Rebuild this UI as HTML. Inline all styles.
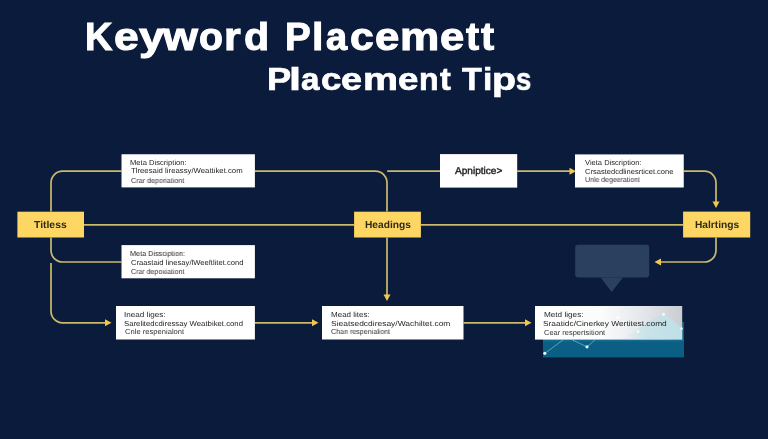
<!DOCTYPE html>
<html><head><meta charset="utf-8">
<style>
html,body{margin:0;padding:0;}
body{width:768px;height:439px;overflow:hidden;background:#0b1b3b;position:relative;font-family:"Liberation Sans",sans-serif;}
.tx{position:absolute;white-space:nowrap;line-height:1;transform-origin:0 0;will-change:transform;}
.gp{text-rendering:geometricPrecision;}
svg{position:absolute;left:0;top:0;}
</style></head><body>
<svg width="768" height="439" viewBox="0 0 768 439">
<defs>
<linearGradient id="g5" x1="0" y1="0" x2="1" y2="0">
<stop offset="0" stop-color="#ffffff"/>
<stop offset="0.45" stop-color="#fbfcfc"/>
<stop offset="0.75" stop-color="#e2e6ea"/>
<stop offset="1" stop-color="#c9ccd0"/>
</linearGradient>
<linearGradient id="cy" x1="0" y1="0" x2="1" y2="0">
<stop offset="0" stop-color="#cfe6ec" stop-opacity="0"/>
<stop offset="0.4" stop-color="#c4e2ea" stop-opacity="0.8"/>
<stop offset="1" stop-color="#bfe0e8" stop-opacity="1"/>
</linearGradient>
</defs>
<g fill="none" stroke="#cdb86c" stroke-width="1.7">
<path d="M51 211.5 V182.7 A11.5 11.5 0 0 1 62.5 171.2 H121.5"/>
<path d="M254.9 171.2 H375.5 A11.5 11.5 0 0 1 387 182.7 V211.5"/>
<path d="M387.2 171.2 H440"/>
<path d="M517.2 171.2 H570"/>
<path d="M683.7 171.2 H704.5 A11.5 11.5 0 0 1 716 182.7 V203"/>
<path d="M84 224.8 H354 M421 224.8 H683"/>
<path d="M51 237.5 V250.5 A11.5 11.5 0 0 0 62.5 262 H121.5"/>
<path d="M51 263 V311.3 A11.5 11.5 0 0 0 62.5 322.8 H106"/>
<path d="M387 237.5 V295"/>
<path d="M254.9 322.8 H313"/>
<path d="M463.5 322.8 H526"/>
<path d="M716 237.5 V250.5 A11.5 11.5 0 0 1 704.5 262 H660"/>
</g>
<g fill="#f0c850">
<path d="M105 319.3 L111.5 322.8 L105 326.3Z"/>
<path d="M569.5 167.7 L576 171.2 L569.5 174.7Z"/>
<path d="M712.5 201.5 L716 208 L719.5 201.5Z"/>
<path d="M383.5 294.5 L387 301 L390.5 294.5Z"/>
<path d="M312 319.3 L318.5 322.8 L312 326.3Z"/>
<path d="M525 319.3 L531.5 322.8 L525 326.3Z"/>
<path d="M661 258.5 L654.5 262 L661 265.5Z"/>
</g>
<g fill="#fdd663">
<rect x="17.4" y="211.7" width="66.6" height="25.8"/>
<rect x="354.1" y="211.7" width="66.8" height="25.8"/>
<rect x="683.1" y="211.6" width="67.1" height="25.9"/>
</g>
<g fill="#ffffff">
<rect x="121.5" y="154.25" width="133.4" height="33.15"/>
<rect x="121.5" y="245.1" width="133.4" height="33.2"/>
<rect x="116" y="306" width="138.9" height="33.5"/>
<rect x="322" y="306" width="141.5" height="33.5"/>
<rect x="440" y="154.1" width="77.2" height="33.5"/>
<rect x="575" y="154.4" width="108.75" height="33.1"/>
</g>
<rect x="575.2" y="244.8" width="74" height="32.7" rx="3" fill="#2b3f5f"/>
<path d="M600.6 277.4 L623 277.4 L611.7 292Z" fill="#2b3f5f"/>
<rect x="543" y="322" width="141" height="35.4" fill="#0b5e84"/>
<rect x="543" y="339" width="141" height="2.5" fill="#2f86a8" opacity="0.3"/>
<rect x="535" y="306" width="147.2" height="33.6" fill="url(#g5)"/>
<path d="M622 339.2 L648 322 L663.5 314 L682.2 328 L682.2 339.2Z" fill="url(#cy)"/>
<g stroke="#7cc4dc" stroke-width="0.9" opacity="0.75" fill="none">
<path d="M544.8 353.3 L563 340"/>
<path d="M587 346.8 L571.5 339.5 M587 346.8 L595.5 339.5"/>
</g>
<g fill="#e4f6ff">
<circle cx="544.8" cy="353.3" r="1.6"/>
<circle cx="587" cy="346.8" r="1.6"/>
</g>
<g fill="#ffffff" opacity="0.8">
<circle cx="618" cy="317.6" r="1.5"/>
<circle cx="663.5" cy="314.2" r="1.5"/>
<circle cx="638" cy="331.5" r="1.5"/>
<circle cx="681.5" cy="328.5" r="1.3"/>
</g>
</svg>
<div class="tx" style="left:84.51px;top:17.66px;font-size:38.0px;font-weight:bold;color:#ffffff;transform:scaleX(0.9910);-webkit-text-stroke:1.0px #fff;">K</div>
<div class="tx" style="left:113.72px;top:17.66px;font-size:38.0px;font-weight:bold;color:#ffffff;transform:scaleX(1.1705);-webkit-text-stroke:1.0px #fff;">e</div>
<div class="tx" style="left:138.54px;top:17.66px;font-size:38.0px;font-weight:bold;color:#ffffff;transform:scaleX(1.2061);-webkit-text-stroke:1.0px #fff;">y</div>
<div class="tx" style="left:163.25px;top:17.66px;font-size:38.0px;font-weight:bold;color:#ffffff;transform:scaleX(1.1808);-webkit-text-stroke:1.0px #fff;">w</div>
<div class="tx" style="left:199.43px;top:17.66px;font-size:38.0px;font-weight:bold;color:#ffffff;transform:scaleX(1.0303);-webkit-text-stroke:1.0px #fff;">o</div>
<div class="tx" style="left:224.17px;top:17.66px;font-size:38.0px;font-weight:bold;color:#ffffff;transform:scaleX(1.1308);-webkit-text-stroke:1.0px #fff;">r</div>
<div class="tx" style="left:244.35px;top:17.66px;font-size:38.0px;font-weight:bold;color:#ffffff;transform:scaleX(1.0836);-webkit-text-stroke:1.0px #fff;">d</div>
<div class="tx" style="left:284.95px;top:17.66px;font-size:38.0px;font-weight:bold;color:#ffffff;transform:scaleX(1.0150);-webkit-text-stroke:1.0px #fff;">P</div>
<div class="tx" style="left:311.88px;top:17.66px;font-size:38.0px;font-weight:bold;color:#ffffff;transform:scaleX(1.0808);-webkit-text-stroke:1.0px #fff;">l</div>
<div class="tx" style="left:325.88px;top:17.66px;font-size:38.0px;font-weight:bold;color:#ffffff;transform:scaleX(0.9806);-webkit-text-stroke:1.0px #fff;">a</div>
<div class="tx" style="left:349.64px;top:17.66px;font-size:38.0px;font-weight:bold;color:#ffffff;transform:scaleX(1.1224);-webkit-text-stroke:1.0px #fff;">c</div>
<div class="tx" style="left:374.50px;top:17.66px;font-size:38.0px;font-weight:bold;color:#ffffff;transform:scaleX(1.1513);-webkit-text-stroke:1.0px #fff;">e</div>
<div class="tx" style="left:399.60px;top:17.66px;font-size:38.0px;font-weight:bold;color:#ffffff;transform:scaleX(1.1620);-webkit-text-stroke:1.0px #fff;">m</div>
<div class="tx" style="left:439.81px;top:17.66px;font-size:38.0px;font-weight:bold;color:#ffffff;transform:scaleX(1.1458);-webkit-text-stroke:1.0px #fff;">e</div>
<div class="tx" style="left:465.76px;top:17.66px;font-size:38.0px;font-weight:bold;color:#ffffff;transform:scaleX(1.0357);-webkit-text-stroke:1.0px #fff;">t</div>
<div class="tx" style="left:481.35px;top:17.66px;font-size:38.0px;font-weight:bold;color:#ffffff;transform:scaleX(1.0399);-webkit-text-stroke:1.0px #fff;">t</div>
<div class="tx" style="left:266.81px;top:63.90px;font-size:31.0px;font-weight:bold;color:#ffffff;transform:scaleX(1.1694);-webkit-text-stroke:0.7px #fff;">P</div>
<div class="tx" style="left:289.08px;top:63.90px;font-size:31.0px;font-weight:bold;color:#ffffff;transform:scaleX(1.3940);-webkit-text-stroke:0.7px #fff;">l</div>
<div class="tx" style="left:301.11px;top:63.90px;font-size:31.0px;font-weight:bold;color:#ffffff;transform:scaleX(1.0682);-webkit-text-stroke:0.7px #fff;">a</div>
<div class="tx" style="left:321.24px;top:63.90px;font-size:31.0px;font-weight:bold;color:#ffffff;transform:scaleX(1.1784);-webkit-text-stroke:0.7px #fff;">c</div>
<div class="tx" style="left:341.34px;top:63.90px;font-size:31.0px;font-weight:bold;color:#ffffff;transform:scaleX(1.2198);-webkit-text-stroke:0.7px #fff;">e</div>
<div class="tx" style="left:362.74px;top:63.90px;font-size:31.0px;font-weight:bold;color:#ffffff;transform:scaleX(1.2694);-webkit-text-stroke:0.7px #fff;">m</div>
<div class="tx" style="left:397.63px;top:63.90px;font-size:31.0px;font-weight:bold;color:#ffffff;transform:scaleX(1.1828);-webkit-text-stroke:0.7px #fff;">e</div>
<div class="tx" style="left:419.18px;top:63.90px;font-size:31.0px;font-weight:bold;color:#ffffff;transform:scaleX(1.0336);-webkit-text-stroke:0.7px #fff;">n</div>
<div class="tx" style="left:440.18px;top:63.90px;font-size:31.0px;font-weight:bold;color:#ffffff;transform:scaleX(1.0406);-webkit-text-stroke:0.7px #fff;">t</div>
<div class="tx" style="left:462.28px;top:63.90px;font-size:31.0px;font-weight:bold;color:#ffffff;transform:scaleX(1.0416);-webkit-text-stroke:0.7px #fff;">T</div>
<div class="tx" style="left:482.75px;top:63.90px;font-size:31.0px;font-weight:bold;color:#ffffff;transform:scaleX(1.0829);-webkit-text-stroke:0.7px #fff;">i</div>
<div class="tx" style="left:491.74px;top:63.90px;font-size:31.0px;font-weight:bold;color:#ffffff;transform:scaleX(1.2682);-webkit-text-stroke:0.7px #fff;">p</div>
<div class="tx" style="left:515.50px;top:63.90px;font-size:31.0px;font-weight:bold;color:#ffffff;transform:scaleX(0.8871);-webkit-text-stroke:0.7px #fff;">s</div>
<div class="tx gp" style="left:33.90px;top:220.53px;font-size:10.2px;font-weight:bold;color:#302a16;transform:scaleX(1.0183);">Titless</div>
<div class="tx gp" style="left:364.99px;top:220.53px;font-size:10.2px;font-weight:bold;color:#302a16;transform:scaleX(0.9960);">Headings</div>
<div class="tx gp" style="left:695.09px;top:220.53px;font-size:10.2px;font-weight:bold;color:#302a16;transform:scaleX(0.9920);">Halrtings</div>
<div class="tx gp" style="left:455.48px;top:167.20px;font-size:10.0px;font-weight:normal;color:#222222;transform:scaleX(1.0082);-webkit-text-stroke:0.4px #222;">Apniptice&gt;</div>
<div class="tx gp" style="left:130.39px;top:158.89px;font-size:7.3px;font-weight:normal;color:#262626;transform:scaleX(1.0428);">Meta Discription:</div>
<div class="tx gp" style="left:130.84px;top:167.29px;font-size:7.3px;font-weight:normal;color:#1e1e1e;transform:scaleX(1.0641);">Tlreesaid lireassy/Weattiket.com</div>
<div class="tx gp" style="left:130.64px;top:176.74px;font-size:7.3px;font-weight:normal;color:#333333;transform:scaleX(0.9824);">Crar deporiationt</div>
<div class="tx gp" style="left:130.42px;top:249.54px;font-size:7.3px;font-weight:normal;color:#262626;transform:scaleX(0.9909);">Meta Dissciption:</div>
<div class="tx gp" style="left:130.62px;top:258.69px;font-size:7.3px;font-weight:normal;color:#1e1e1e;transform:scaleX(1.0431);">Craastaid linesay/lWeeftlitet.cond</div>
<div class="tx gp" style="left:130.65px;top:267.50px;font-size:7.3px;font-weight:normal;color:#333333;transform:scaleX(0.9604);">Crar depoxiationt</div>
<div class="tx gp" style="left:124.45px;top:310.55px;font-size:7.3px;font-weight:normal;color:#262626;transform:scaleX(1.1159);">Inead liges:</div>
<div class="tx gp" style="left:123.99px;top:319.55px;font-size:7.3px;font-weight:normal;color:#1e1e1e;transform:scaleX(1.0643);">Sarelitedcdiressay Weatbiket.cond</div>
<div class="tx gp" style="left:124.72px;top:328.39px;font-size:7.3px;font-weight:normal;color:#333333;transform:scaleX(1.0420);">Cnle respenialont</div>
<div class="tx gp" style="left:330.91px;top:310.55px;font-size:7.3px;font-weight:normal;color:#262626;transform:scaleX(1.0985);">Mead lites:</div>
<div class="tx gp" style="left:331.13px;top:319.55px;font-size:7.3px;font-weight:normal;color:#1e1e1e;transform:scaleX(1.1573);">Sieatsedcdiresay/Wachiltet.com</div>
<div class="tx gp" style="left:331.40px;top:328.39px;font-size:7.3px;font-weight:normal;color:#333333;transform:scaleX(0.9720);">Chan respenialiont</div>
<div class="tx gp" style="left:543.53px;top:311.00px;font-size:7.3px;font-weight:normal;color:#262626;transform:scaleX(1.1199);">Metd liges:</div>
<div class="tx gp" style="left:542.96px;top:320.30px;font-size:7.3px;font-weight:normal;color:#1e1e1e;transform:scaleX(1.1445);">Sraatidc/Cinerkey Wertitest.comd</div>
<div class="tx gp" style="left:543.73px;top:329.10px;font-size:7.3px;font-weight:normal;color:#333333;transform:scaleX(1.0253);">Cear respertsitiont</div>
<div class="tx gp" style="left:585.36px;top:159.09px;font-size:7.3px;font-weight:normal;color:#262626;transform:scaleX(1.0333);">Vieta Discription:</div>
<div class="tx gp" style="left:584.98px;top:167.54px;font-size:7.3px;font-weight:normal;color:#1e1e1e;transform:scaleX(1.0335);">Crsastedcdlinesrticet.cone</div>
<div class="tx gp" style="left:584.64px;top:176.49px;font-size:7.3px;font-weight:normal;color:#333333;transform:scaleX(0.9524);">Unle degeerationt</div>
</body></html>
